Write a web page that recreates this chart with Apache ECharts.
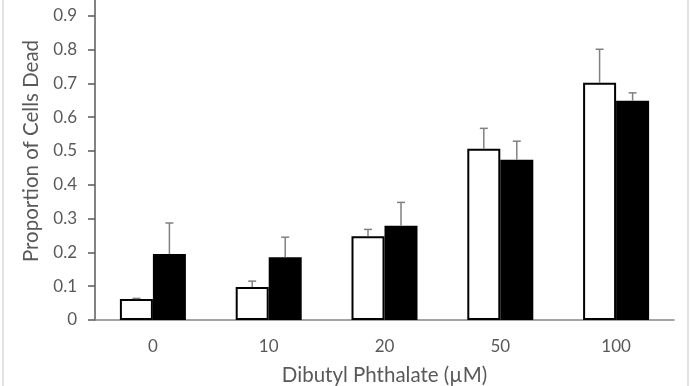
<!DOCTYPE html>
<html>
<head>
<meta charset="utf-8">
<script src="https://cdn.jsdelivr.net/npm/echarts@6/dist/echarts.min.js"></script>
<style>html,body{margin:0;padding:0;background:#fff}#c{width:690px;height:386px}</style>
</head>
<body>
<div id="c"></div>
<script>
const categories = ['0', '10', '20', '50', '100'];
const whiteValues = [0.062, 0.098, 0.248, 0.507, 0.702];
const whiteErrTop = [0.064, 0.115, 0.268, 0.567, 0.801];
const blackValues = [0.195, 0.186, 0.279, 0.474, 0.649];
const blackErrTop = [0.287, 0.245, 0.348, 0.529, 0.672];
const yTicks = [0, 0.1, 0.2, 0.3, 0.4, 0.5, 0.6, 0.7, 0.8, 0.9];

const BAR_W = 33;
const font = 'Lato, "Open Sans", sans-serif';

function errSeries(vals, tops, dir) {
  return {
    type: 'custom',
    z: 5,
    data: vals.map((v, i) => [i, v, tops[i]]),
    renderItem: function (params, api) {
      const base = api.coord([api.value(0), api.value(1)]);
      const top = api.coord([api.value(0), api.value(2)]);
      const x = base[0] + dir * BAR_W / 2;
      const cap = 4;
      const style = { stroke: '#808080', lineWidth: 1.5, fill: null };
      return {
        type: 'group',
        children: [
          { type: 'line', shape: { x1: x, y1: base[1], x2: x, y2: top[1] }, style: style },
          { type: 'line', shape: { x1: x - cap, y1: top[1], x2: x + cap, y2: top[1] }, style: style }
        ]
      };
    }
  };
}

const chart = echarts.init(document.getElementById('c'));
chart.setOption({
  animation: false,
  backgroundColor: '#fff',
  grid: { left: 95, right: 16, top: -18, bottom: 66, containLabel: false, outerBoundsMode: 'none' },
  xAxis: {
    type: 'category',
    data: categories,
    axisLine: { lineStyle: { color: '#868686', width: 1.5 } },
    axisTick: { show: false },
    axisLabel: { color: '#595959', fontSize: 17, fontFamily: font, margin: 18 },
    name: 'Dibutyl Phthalate (\u00b5M)',
    nameLocation: 'middle',
    nameGap: 45,
    nameTextStyle: { color: '#595959', fontSize: 20.5, fontFamily: font }
  },
  yAxis: {
    type: 'value',
    min: 0,
    max: 1,
    interval: 0.1,
    splitLine: { show: false },
    axisLine: { show: true, lineStyle: { color: '#595959', width: 1.5 } },
    axisTick: { show: true, inside: false, length: 7, lineStyle: { color: '#595959', width: 1.5 } },
    axisLabel: {
      color: '#595959', fontSize: 17, fontFamily: font, margin: 18,
      formatter: function (v) {
        const r = Math.round(v * 10) / 10;
        return yTicks.indexOf(r) >= 0 ? String(r) : '';
      }
    },
    name: 'Proportion of Cells Dead',
    nameLocation: 'middle',
    nameGap: 52,
    nameTextStyle: { color: '#595959', fontSize: 20.5, fontFamily: font }
  },
  series: [
    {
      type: 'bar',
      data: whiteValues,
      barWidth: BAR_W,
      barGap: '0%',
      itemStyle: { color: '#ffffff', borderColor: '#000000', borderWidth: 2 }
    },
    {
      type: 'bar',
      data: blackValues,
      barWidth: BAR_W,
      barGap: '0%',
      itemStyle: { color: '#000000' }
    },
    errSeries(whiteValues, whiteErrTop, -1),
    errSeries(blackValues, blackErrTop, 1)
  ],
  graphic: [
    { type: 'rect', shape: { x: 2, y: 0, width: 2, height: 386 }, style: { fill: '#e3e3e3' }, silent: true },
    { type: 'rect', shape: { x: 687, y: 0, width: 2, height: 386 }, style: { fill: '#e3e3e3' }, silent: true }
  ]
});
</script>
</body>
</html>
